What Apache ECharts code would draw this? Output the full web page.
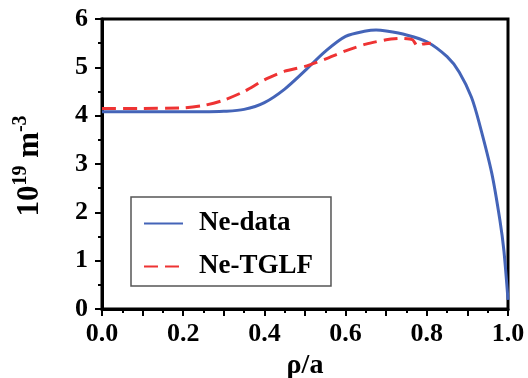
<!DOCTYPE html>
<html>
<head>
<meta charset="utf-8">
<script src="https://cdn.jsdelivr.net/npm/echarts@6/dist/echarts.min.js"></script>
<style>
  html, body {margin: 0; padding: 0; background: #fff;}
  #main {width: 528px; height: 378px;}
</style>
</head>
<body>
<div id="main"></div>
<script>
// Ne-data (measured profile)
const rhoData = [0, 0.1, 0.2, 0.25, 0.3, 0.35, 0.4, 0.45, 0.5, 0.55, 0.6, 0.65, 0.675, 0.7, 0.75, 0.8, 0.85, 0.88, 0.91, 0.93, 0.96, 0.98, 0.99, 1.0];
const neData = [4.08, 4.08, 4.08, 4.08, 4.09, 4.13, 4.27, 4.55, 4.93, 5.33, 5.64, 5.75, 5.77, 5.75, 5.67, 5.53, 5.22, 4.9, 4.38, 3.82, 2.81, 1.84, 1.2, 0.19];
// Ne-TGLF (simulated)
const rhoTglf = [0, 0.1, 0.2, 0.25, 0.3, 0.35, 0.4, 0.45, 0.5, 0.55, 0.6, 0.65, 0.7, 0.74, 0.765, 0.777, 0.79, 0.81];
const neTglf = [4.15, 4.15, 4.16, 4.21, 4.32, 4.5, 4.74, 4.92, 5.02, 5.17, 5.34, 5.48, 5.57, 5.6, 5.57, 5.44, 5.48, 5.5];
const seriesNames = ['Ne-data', 'Ne-TGLF'];

const FONT = 'Liberation Serif';
const pair = (xs, ys) => xs.map((x, i) => [x, ys[i]]);

const chart = echarts.init(document.getElementById('main'));
chart.setOption({
  animation: false,
  grid: {
    left: 102, right: 20, top: 19, bottom: 69,
    outerBoundsMode: 'none', containLabel: false,
    show: true, borderColor: '#000', borderWidth: 3
  },
  legend: {
    orient: 'vertical',
    left: 131, top: 197,
    padding: [13, 18, 6, 12],
    borderColor: '#555', borderWidth: 1.5,
    itemWidth: 39, itemHeight: 14, itemGap: 16,
    itemStyle: {opacity: 0},
    textStyle: {fontFamily: FONT, fontWeight: 'bold', fontSize: 27, color: '#000', padding: [0, 0, 0, 11]},
    data: seriesNames
  },
  xAxis: {
    type: 'value', min: 0, max: 1, interval: 0.1,
    name: 'ρ/a', nameLocation: 'middle', nameGap: 39,
    nameTextStyle: {fontFamily: FONT, fontWeight: 'bold', fontSize: 28, color: '#000'},
    axisLine: {lineStyle: {color: '#000', width: 3}},
    axisTick: {length: 7, lineStyle: {color: '#000', width: 2}},
    minorTick: {show: true, splitNumber: 2, length: 4, lineStyle: {color: '#000', width: 2}},
    splitLine: {show: false},
    axisLabel: {
      margin: 12, fontFamily: FONT, fontWeight: 'bold', fontSize: 26, color: '#000',
      formatter: v => (Math.round(v * 10) % 2 === 0 ? v.toFixed(1) : '')
    }
  },
  yAxis: {
    type: 'value', min: 0, max: 6, interval: 1,
    name: '{b|10}{s|19}{b| m}{s|-3}', nameLocation: 'middle', nameGap: 57, nameRotate: 90,
    nameTextStyle: {
      color: '#000',
      padding: [0, 0, 0, -4],
      rich: {
        b: {fontFamily: FONT, fontWeight: 'bold', fontSize: 31, color: '#000', lineHeight: 34, verticalAlign: 'bottom'},
        s: {fontFamily: FONT, fontWeight: 'bold', fontSize: 20, color: '#000', lineHeight: 34, verticalAlign: 'top'}
      }
    },
    axisLine: {lineStyle: {color: '#000', width: 3}},
    axisTick: {length: 7, lineStyle: {color: '#000', width: 2}},
    minorTick: {show: true, splitNumber: 2, length: 4, lineStyle: {color: '#000', width: 2}},
    splitLine: {show: false},
    axisLabel: {margin: 14, fontFamily: FONT, fontWeight: 'bold', fontSize: 26, color: '#000'}
  },
  series: [
    {
      name: seriesNames[0], type: 'line', data: pair(rhoData, neData),
      showSymbol: false, symbol: 'none', smooth: 0.3,
      lineStyle: {color: '#4464B8', width: 3},
      itemStyle: {color: '#4464B8'}
    },
    {
      name: seriesNames[1], type: 'line', data: pair(rhoTglf, neTglf),
      showSymbol: false, symbol: 'none', smooth: 0.2,
      lineStyle: {color: '#EE3333', width: 3, type: [14, 7]},
      itemStyle: {color: '#EE3333'}
    }
  ]
});
</script>
</body>
</html>
